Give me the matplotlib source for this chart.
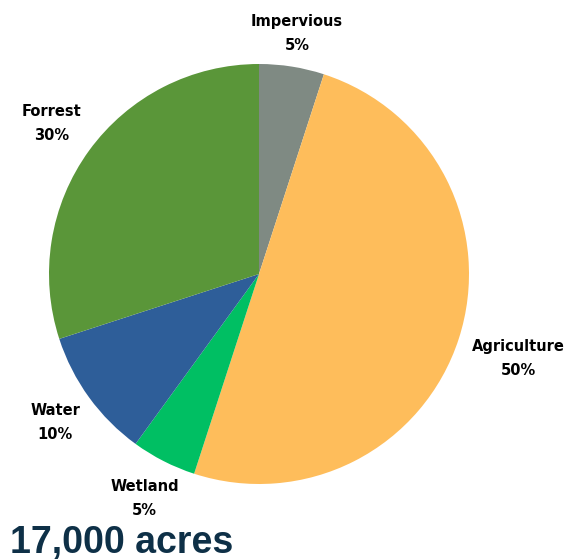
import matplotlib
matplotlib.use("Agg")
import matplotlib.pyplot as plt
import numpy as np

categories = ["Impervious", "Agriculture", "Wetland", "Water", "Forrest"]
values = [5, 50, 5, 10, 30]
colors = ["#7f8a83", "#febd5b", "#00bf63", "#2e5e99", "#5a9639"]
title = "17,000 acres"

W, H = 568, 559
fig = plt.figure(figsize=(W / 100, H / 100), dpi=100)
cx, cy, r = 259, 274, 210
ax = fig.add_axes([(cx - r) / W, (H - cy - r) / H, 2 * r / W, 2 * r / H])

wedges, _ = ax.pie(values, colors=colors, startangle=90, counterclock=False,
                   radius=1.0, wedgeprops=dict(linewidth=0))
ax.set_xlim(-1, 1)
ax.set_ylim(-1, 1)
ax.set_aspect("equal")
ax.axis("off")

dists = [1.16, 1.30, 1.20, 1.20, 1.22]
for w, cat, v, d in zip(wedges, categories, values, dists):
    ang = np.deg2rad((w.theta1 + w.theta2) / 2)
    ax.text(d * np.cos(ang), d * np.sin(ang), f"{cat}\n{v}%",
            ha="center", va="center", fontsize=10.5, fontweight="bold",
            family="DejaVu Sans", linespacing=1.75, clip_on=False)

fig.text(10 / W, 1 - 553 / H, title, ha="left", va="baseline",
         fontsize=27, fontweight="bold", family="Liberation Sans",
         color="#0e3047")

fig.savefig("out.png", dpi=100)
